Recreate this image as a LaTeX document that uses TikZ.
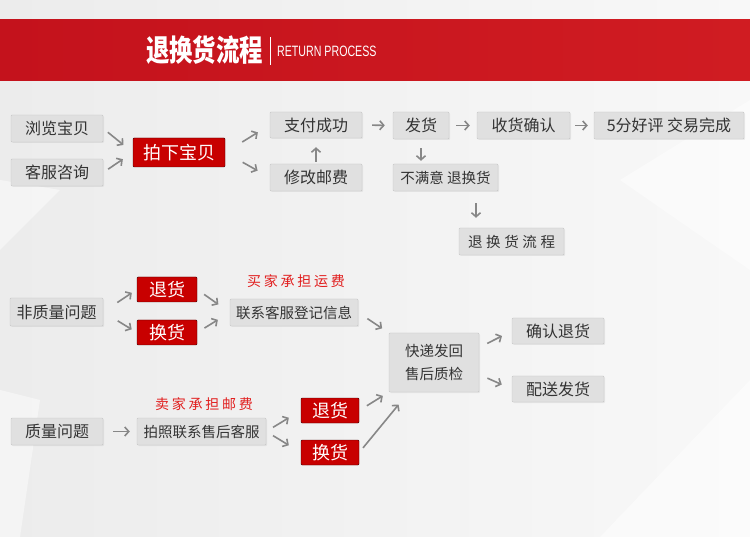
\documentclass[tikz,border=0pt]{standalone}
\usepackage{fontspec}
\setmainfont{Noto Sans CJK SC}
\newfontfamily\latinfont{Liberation Sans}
\usepackage{tikz}
\usepackage{xcolor}
\definecolor{bandred}{RGB}{196,18,28}
\definecolor{bandredlight}{RGB}{208,28,34}
\definecolor{boxred}{RGB}{200,0,0}
\definecolor{boxgray}{RGB}{224,224,224}
\definecolor{linegray}{RGB}{198,198,198}
\definecolor{arrowgray}{RGB}{135,135,135}
\definecolor{textgray}{RGB}{51,51,51}
\definecolor{notered}{RGB}{225,30,30}
\definecolor{bgleft}{RGB}{236,236,236}
\definecolor{bgright}{RGB}{248,248,248}
\usetikzlibrary{arrows.meta,shadows}
\tikzset{>={Straight Barb[length=4pt,width=9pt]}}
\tikzset{
  graybox/.style={draw=linegray, fill=boxgray, rounded corners=1pt, inner sep=0pt,
    minimum height=27pt, text=textgray, font=\fontsize{16}{18}\selectfont,
    drop shadow={opacity=0.12, shadow xshift=1pt, shadow yshift=-1pt}},
  smallbox/.style={graybox, font=\fontsize{14.5}{17}\selectfont},
  redbox/.style={draw=red!25!black, fill=boxred, rounded corners=1pt, inner sep=0pt,
    minimum height=25pt, text=white, font=\fontsize{18}{20}\selectfont},
  flow/.style={->, draw=arrowgray, line width=1.6pt},
  feenote/.style={text=notered, inner sep=0pt,
    font=\fontsize{14}{16}\selectfont\addfontfeature{LetterSpace=20}},
  facet/.style={fill=white, opacity=0.45}
}

\begin{document}
\begin{tikzpicture}[x=1pt,y=-1pt]
    \useasboundingbox (0,0) rectangle (750,537);
    \shade[left color=bgleft, right color=bgright] (0,0) rectangle (750,537);
    \fill[facet] (0,180) -- (60,190) -- (0,250) -- cycle;
    \fill[facet] (0,390) -- (40,400) -- (20,537) -- (0,537) -- cycle;
    \fill[facet] (620,180) -- (750,100) -- (750,270) -- cycle;
    \fill[facet] (600,537) -- (750,380) -- (750,537) -- cycle;
    \shade[left color=bandred, right color=bandredlight] (0,20) rectangle (750,81);
    \node[text=white, font=\fontsize{30}{32}\selectfont\bfseries, xscale=0.78] (title) at (204.5,50) {退换货流程};
    \draw[white, line width=0.8pt] (270,37) -- (270,65);
    \node[text=white, font=\latinfont\fontsize{15}{16}\selectfont, xscale=0.71, anchor=west, inner sep=0pt] (subtitle) at (277,51) {RETURN PROCESS};

    \node[graybox, minimum width=92pt] (browse) at (57,128.5) {浏览宝贝};
    \node[graybox, minimum width=92pt] (consult) at (57,172.5) {客服咨询};
    \node[redbox, minimum width=92pt, minimum height=29pt] (order) at (179,152.5) {拍下宝贝};
    \node[graybox, minimum width=92pt, minimum height=26pt] (paid) at (316,125) {支付成功};
    \node[graybox, minimum width=92pt] (postage) at (316,177.5) {修改邮费};
    \node[graybox, minimum width=56pt] (ship) at (421,125.5) {发货};
    \node[graybox, minimum width=93pt] (receive) at (523.5,125.5) {收货确认};
    \node[graybox, minimum width=150pt] (done) at (669,125.5) {5分好评 交易完成};
    \node[smallbox, minimum width=105pt] (unhappy) at (445.5,177.5) {不满意 退换货};
    \node[smallbox, minimum width=105pt, font=\fontsize{14.5}{17}\selectfont\addfontfeature{LetterSpace=25}] (process) at (511.5,241.5) {退换货流程};
    \draw[flow, shorten <=6pt, shorten >=12pt] (browse.east) -- (order.west);
    \draw[flow, shorten <=6pt, shorten >=12pt] (consult.east) -- (order.west);
    \draw[flow, shorten <=20pt, shorten >=14pt] (order.east) -- (paid.west);
    \draw[flow, shorten <=20pt, shorten >=14pt] (order.east) -- (postage.west);
    \draw[flow, shorten <=2pt, shorten >=9pt] (postage.north) -- (paid.south);
    \draw[flow, shorten <=10pt, shorten >=8pt] (paid.east) -- (ship.west);
    \draw[flow, shorten <=7pt, shorten >=7pt] (ship.east) -- (receive.west);
    \draw[flow, shorten <=5pt, shorten >=6pt] (receive.east) -- (done.west);
    \draw[flow, shorten <=9pt, shorten >=3pt] (ship.south) -- (ship.south |- unhappy.north);
    \draw[flow, shorten <=12pt, shorten >=10pt] ([xshift=-35.5pt]process.north |- unhappy.south) -- ([xshift=-35.5pt]process.north);

    \node[graybox, minimum width=93pt, minimum height=28pt] (nonquality) at (56.5,312) {非质量问题};
    \node[redbox, minimum width=60pt] (return1) at (167,289.5) {退货};
    \node[redbox, minimum width=60pt] (exchange1) at (167,332.5) {换货};
    \node[smallbox, minimum width=128pt] (contact) at (294,312.5) {联系客服登记信息};
    \node[feenote] (buyerfee) at (296,281) {买家承担运费};
    \node[smallbox, minimum width=90pt, minimum height=59pt, align=center, font=\fontsize{14.5}{23}\selectfont] (check) at (434,362.5) {快递发回\\售后质检};
    \node[graybox, minimum width=92pt, minimum height=26pt] (confirm) at (558,331) {确认退货};
    \node[graybox, minimum width=92pt, minimum height=26pt] (resend) at (558,389) {配送发货};
    \draw[flow, shorten <=17pt, shorten >=6pt] (nonquality.east) -- (return1.west);
    \draw[flow, shorten <=17pt, shorten >=6pt] (nonquality.east) -- (exchange1.west);
    \draw[flow, shorten <=8.5pt, shorten >=14pt] (return1.east) -- (contact.west);
    \draw[flow, shorten <=8.5pt, shorten >=14pt] (exchange1.east) -- (contact.west);
    \draw[flow, shorten <=11pt, shorten >=8pt] (contact.east) -- (check.north west);
    \draw[flow, shorten <=9pt, shorten >=11pt] ([yshift=15pt]check.east) -- (confirm.west);
    \draw[flow, shorten <=9pt, shorten >=11pt] ([yshift=-12pt]check.east) -- (resend.west);

    \node[graybox, minimum width=92pt] (quality) at (57,431.5) {质量问题};
    \node[smallbox, minimum width=129pt] (photo) at (201.5,431.5) {拍照联系售后客服};
    \node[feenote] (sellerfee) at (204,404) {卖家承担邮费};
    \node[redbox, minimum width=58pt] (return2) at (330,410.5) {退货};
    \node[redbox, minimum width=58pt] (exchange2) at (330,452.5) {换货};
    \draw[flow, shorten <=10pt, shorten >=7pt] (quality.east) -- (photo.west);
    \draw[flow, shorten <=8pt, shorten >=14pt] (photo.east) -- (return2.west);
    \draw[flow, shorten <=8pt, shorten >=14pt] (photo.east) -- (exchange2.west);
    \draw[flow, shorten <=9pt, shorten >=7pt] (return2.east) -- (check.south west);
    \draw[flow, shorten <=6pt, shorten >=16pt] (exchange2.east) -- ([xshift=20pt]check.south west);
  \end{tikzpicture}
\end{document}
